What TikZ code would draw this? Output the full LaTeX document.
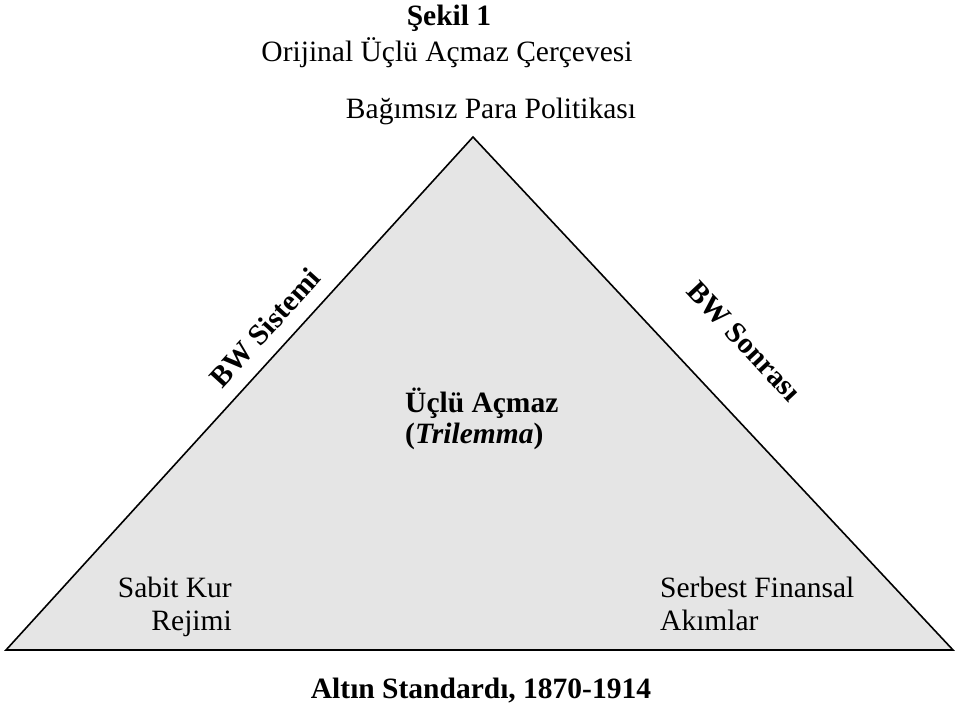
\documentclass[tikz,border=0pt]{standalone}
\usepackage{fontspec}
\setmainfont{Liberation Serif}
\usetikzlibrary{positioning}
\def \tu {1pt}

\begin{document}
\begin{tikzpicture}[x=\tu,y=-\tu,
    every node/.style={inner sep=0pt,font=\fontsize{29.5}{32}\selectfont},
    kalin/.style={font=\fontsize{29.5}{32}\selectfont\bfseries}]
    \useasboundingbox (0,0) rectangle (960,707);
    % ucgen
    \coordinate (T) at (473,137);
    \coordinate (L) at (6,650);
    \coordinate (R) at (953,650);
    \draw[line width=1.6pt,fill=gray!20,line join=miter] (L) -- (T) -- (R) -- cycle;
    % baslik
    \node[kalin,anchor=base] (sekil) at (449,25) {Şekil 1};
    \node[anchor=base] (baslik) at (447,61) {Orijinal Üçlü Açmaz Çerçevesi};
    % koseler
    \node[anchor=base] (para) at (491,118) {Bağımsız Para Politikası};
    \node[anchor=base east] (sabit) at (232,597) {Sabit Kur};
    \node[anchor=base east] (rejim) at (232,630) {Rejimi};
    \node[anchor=base west] (serbest) at (660,597) {Serbest Finansal};
    \node[anchor=base west] (akim) at (660,630) {Akımlar};
    % orta
    \node[kalin,anchor=base west] (ucl) at (405,412) {Üçlü Açmaz};
    \node[kalin,anchor=base west] (tri) at (405,443) {(\textit{Trilemma})};
    % kenarlar
    \path (L) -- node[kalin,sloped,pos=0.595,above=15pt] (bwsis) {BW Sistemi} (T);
    \path (T) -- node[kalin,sloped,pos=0.476,above=48pt] (bwson) {BW Sonrası} (R);
    \node[kalin,anchor=base] (altin) at (481,698) {Altın Standardı, 1870-1914};
\end{tikzpicture}
\end{document}
